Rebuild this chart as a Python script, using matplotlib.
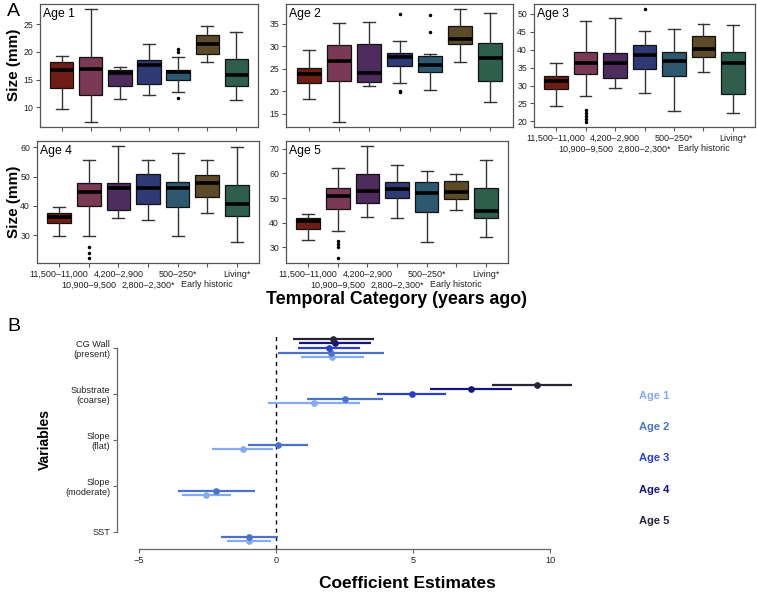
import matplotlib
matplotlib.use("Agg")
import matplotlib.pyplot as plt
import numpy as np

plt.rcParams['font.family'] = ['Liberation Sans', 'DejaVu Sans']

W, H = 757, 595
fig = plt.figure(figsize=(W / 100, H / 100), dpi=100)

# ---------------- data ----------------
categories = ["11,500–11,000", "10,900–9,500", "4,200–2,900", "2,800–2,300*",
              "500–250*", "Early historic", "Living*"]
box_colors = ["#6e1e14", "#7a3a55", "#4e2c5e", "#2f3a75", "#2e5870", "#5c4a28", "#2f5e4c"]

age1_whislo = [9.8, 7.3, 11.6, 12.3, 12.7, 18.1, 11.3]
age1_q1 = [13.5, 12.3, 13.9, 14.2, 14.9, 19.7, 13.9]
age1_med = [16.8, 17.0, 16.2, 17.7, 16.4, 21.5, 15.8]
age1_q3 = [18.1, 19.0, 16.7, 18.6, 16.8, 23.0, 18.7]
age1_whishi = [19.2, 27.8, 17.2, 21.4, 19.0, 24.6, 23.5]
age1_fliers = [[], [], [], [], [20.5, 19.9, 11.7], [], []]

age2_whislo = [18.2, 13.1, 21.1, 21.9, 20.2, 26.5, 17.6]
age2_q1 = [21.9, 22.2, 22.0, 25.6, 24.2, 30.5, 22.2]
age2_med = [23.9, 26.8, 24.1, 27.6, 25.9, 31.6, 27.4]
age2_q3 = [25.3, 30.2, 30.6, 28.5, 27.9, 34.6, 30.7]
age2_whishi = [29.1, 35.1, 35.5, 31.2, 28.3, 38.4, 37.5]
age2_fliers = [[], [], [], [37.2, 20.1, 19.9], [36.9, 33.3], [], []]

age3_whislo = [24.4, 27.2, 29.4, 27.8, 22.9, 33.8, 22.4]
age3_q1 = [29.0, 33.3, 32.0, 34.7, 32.7, 37.9, 27.6]
age3_med = [31.2, 36.3, 36.3, 38.5, 36.9, 40.2, 36.3]
age3_q3 = [32.8, 39.4, 39.0, 41.2, 39.3, 43.7, 39.4]
age3_whishi = [36.3, 48.0, 48.8, 45.1, 45.8, 47.1, 46.8]
age3_fliers = [[], [23.1, 22.3, 21.6, 20.8, 19.7], [], [51.5], [], [], []]

age4_whislo = [29.6, 29.9, 35.9, 35.1, 29.6, 37.5, 27.7]
age4_q1 = [34.1, 40.0, 38.7, 40.7, 39.5, 43.1, 36.6]
age4_med = [36.4, 44.9, 46.2, 46.2, 46.1, 47.9, 40.7]
age4_q3 = [37.5, 47.9, 47.9, 50.9, 48.1, 50.6, 47.2]
age4_whishi = [39.6, 55.5, 60.6, 55.5, 58.1, 55.6, 60.2]
age4_fliers = [[], [26.0, 24.0, 22.1], [], [], [], [], []]

age5_whislo = [32.8, 36.6, 42.2, 42.0, 32.3, 45.2, 34.3]
age5_q1 = [37.5, 45.5, 48.0, 50.2, 44.4, 49.8, 42.0]
age5_med = [40.6, 50.7, 52.7, 53.7, 52.1, 52.3, 44.7]
age5_q3 = [42.0, 54.2, 59.8, 56.4, 56.7, 56.9, 54.1]
age5_whishi = [43.5, 62.2, 71.3, 63.5, 61.0, 59.9, 65.4]
age5_fliers = [[], [32.4, 31.3, 30.2, 25.5], [], [], [], [], []]

age1_yticks = [10, 15, 20, 25]
age2_yticks = [15, 20, 25, 30, 35]
age3_yticks = [20, 25, 30, 35, 40, 45, 50]
age4_yticks = [30, 40, 50, 60]
age5_yticks = [30, 40, 50, 60, 70]

# Panel B
variables = ["CG Wall\n(present)", "Substrate\n(coarse)", "Slope\n(flat)",
             "Slope\n(moderate)", "SST"]
age_names = ["Age 1", "Age 2", "Age 3", "Age 4", "Age 5"]
age_colors = ["#86aaf0", "#4a72c6", "#2a40cc", "#16167a", "#252535"]
nan = np.nan
b_age1_est = [2.05, 1.39, -1.22, -2.54, -1.00]
b_age1_lo = [0.91, -0.28, -2.33, -3.41, -1.80]
b_age1_hi = [3.20, 3.05, -0.12, -1.65, -0.18]
b_age2_est = [2.02, 2.51, 0.07, -2.17, -0.98]
b_age2_lo = [0.07, 1.12, -1.01, -3.57, -2.02]
b_age2_hi = [3.96, 3.90, 1.18, -0.77, 0.09]
b_age3_est = [1.94, 4.95, nan, nan, nan]
b_age3_lo = [0.82, 3.68, nan, nan, nan]
b_age3_hi = [3.07, 6.22, nan, nan, nan]
b_age4_est = [2.16, 7.12, nan, nan, nan]
b_age4_lo = [0.84, 5.63, nan, nan, nan]
b_age4_hi = [3.46, 8.62, nan, nan, nan]
b_age5_est = [2.10, 9.54, nan, nan, nan]
b_age5_lo = [0.61, 7.87, nan, nan, nan]
b_age5_hi = [3.56, 10.8, nan, nan, nan]

# ---------------- helpers ----------------
def ax_px(l, t, r, b):
    return fig.add_axes([l / W, 1 - b / H, (r - l) / W, (b - t) / H])

SPINE = "#555555"
TXT = "#222222"

def box_panel(rect, title, whislo, q1, med, q3, whishi, fliers, yticks, xlabels):
    ax = ax_px(*rect)
    stats = []
    for i in range(len(categories)):
        stats.append(dict(whislo=whislo[i], q1=q1[i], med=med[i], q3=q3[i],
                          whishi=whishi[i], fliers=fliers[i]))
    pos = np.arange(1, len(categories) + 1)
    bp = ax.bxp(stats, positions=pos, widths=0.8, capwidths=0.4, patch_artist=True,
                showfliers=True, manage_ticks=False,
                boxprops=dict(edgecolor="#111111", linewidth=0.9),
                medianprops=dict(color="black", linewidth=2.6, solid_capstyle="butt"),
                whiskerprops=dict(color="#333333", linewidth=1.0),
                capprops=dict(color="#333333", linewidth=1.0),
                flierprops=dict(marker="o", markersize=1.5, markerfacecolor="black",
                                markeredgecolor="black", linestyle="none"))
    for patch, c in zip(bp["boxes"], box_colors):
        patch.set_facecolor(c)
    allv = whislo + whishi + [v for f in fliers for v in f]
    lo, hi = min(allv), max(allv)
    pad = 0.04 * (hi - lo)
    ax.set_ylim(lo - pad, hi + pad)
    ax.set_xlim(0.25, 7.75)
    ax.set_yticks(yticks)
    odd = pos[0::2]
    even = pos[1::2]
    if xlabels:
        ax.set_xticks(odd, [categories[i - 1] for i in odd])
        ax.set_xticks(even, [categories[i - 1] for i in even], minor=True)
    else:
        ax.set_xticks(odd, [])
        ax.set_xticks(even, [], minor=True)
    for s in ax.spines.values():
        s.set_color(SPINE)
        s.set_linewidth(0.9)
    ax.tick_params(axis="both", which="both", direction="out", length=3, width=0.8,
                   color=SPINE, labelsize=6.3, labelcolor=TXT, pad=2)
    ax.tick_params(axis="x", which="major", labelsize=6.5, pad=2)
    ax.tick_params(axis="x", which="minor", labelsize=6.5, pad=9.5)
    ax.text(0.015, 0.97, title, transform=ax.transAxes, ha="left", va="top",
            fontsize=8.8, color="black")
    return ax

a1 = box_panel((40, 4, 258, 127), "Age 1", age1_whislo, age1_q1, age1_med, age1_q3,
               age1_whishi, age1_fliers, age1_yticks, False)
a2 = box_panel((286, 4, 513, 127), "Age 2", age2_whislo, age2_q1, age2_med, age2_q3,
               age2_whishi, age2_fliers, age2_yticks, False)
a3 = box_panel((534, 4, 755, 127), "Age 3", age3_whislo, age3_q1, age3_med, age3_q3,
               age3_whishi, age3_fliers, age3_yticks, True)
a4 = box_panel((37, 141, 259, 263), "Age 4", age4_whislo, age4_q1, age4_med, age4_q3,
               age4_whishi, age4_fliers, age4_yticks, True)
a5 = box_panel((286, 141, 508, 263), "Age 5", age5_whislo, age5_q1, age5_med, age5_q3,
               age5_whishi, age5_fliers, age5_yticks, True)

fig.text(14 / W, 1 - 65 / H, "Size (mm)", rotation=90, ha="center", va="center",
         fontsize=11, fontweight="bold")
fig.text(14 / W, 1 - 202 / H, "Size (mm)", rotation=90, ha="center", va="center",
         fontsize=11, fontweight="bold")
fig.text(397 / W, 1 - 299 / H, "Temporal Category (years ago)", ha="center",
         va="center", fontsize=12.8, fontweight="bold")
fig.text(7 / W, 1 - 12 / H, "A", ha="left", va="center", fontsize=14)
fig.text(7 / W, 1 - 326 / H, "B", ha="left", va="center", fontsize=14)

# ---------------- panel B ----------------
axb = ax_px(117, 330, 590, 549)
axb.set_xlim(-5.80, 11.46)
axb.set_ylim(0.63, 5.39)
ypos = np.array([5, 4, 3, 2, 1], dtype=float)
ests = [b_age1_est, b_age2_est, b_age3_est, b_age4_est, b_age5_est]
los = [b_age1_lo, b_age2_lo, b_age3_lo, b_age4_lo, b_age5_lo]
his = [b_age1_hi, b_age2_hi, b_age3_hi, b_age4_hi, b_age5_hi]
axb.vlines(0, 0.63, 5.33, color="black", linestyle=(0, (3, 3)), linewidth=1.0, zorder=1)
for k in range(5):
    off = (k - 2) * 0.1
    y = ypos + off
    e = np.array(ests[k], dtype=float)
    lo = np.array(los[k], dtype=float)
    hi = np.array(his[k], dtype=float)
    m = ~np.isnan(e)
    axb.hlines(y[m], lo[m], hi[m], color=age_colors[k], linewidth=1.6, zorder=2)
    axb.plot(e[m], y[m], "o", color=age_colors[k], markersize=3.8, zorder=3)
    fig.text(639 / W, 1 - (396 + 31.2 * k) / H, age_names[k], ha="left", va="center",
             fontsize=8, fontweight="bold", color=age_colors[k])

for s in ["top", "right"]:
    axb.spines[s].set_visible(False)
axb.spines["left"].set_bounds(1, 5)
axb.spines["bottom"].set_bounds(-5, 10)
for s in ["left", "bottom"]:
    axb.spines[s].set_color("#666666")
    axb.spines[s].set_linewidth(0.9)
axb.set_xticks([-5, 0, 5, 10])
axb.set_xticklabels(["−5", "0", "5", "10"])
axb.set_yticks(ypos)
axb.set_yticklabels(variables, linespacing=1.2)
axb.tick_params(axis="both", direction="out", length=3, width=0.8, color="#666666",
                labelsize=6.6, labelcolor=TXT, pad=2)
fig.text(45 / W, 1 - 440 / H, "Variables", rotation=90, ha="center", va="center",
         fontsize=10, fontweight="bold")
fig.text(407 / W, 1 - 583 / H, "Coefficient Estimates", ha="center", va="center",
         fontsize=12.5, fontweight="bold")

fig.savefig("out.png", dpi=100)
